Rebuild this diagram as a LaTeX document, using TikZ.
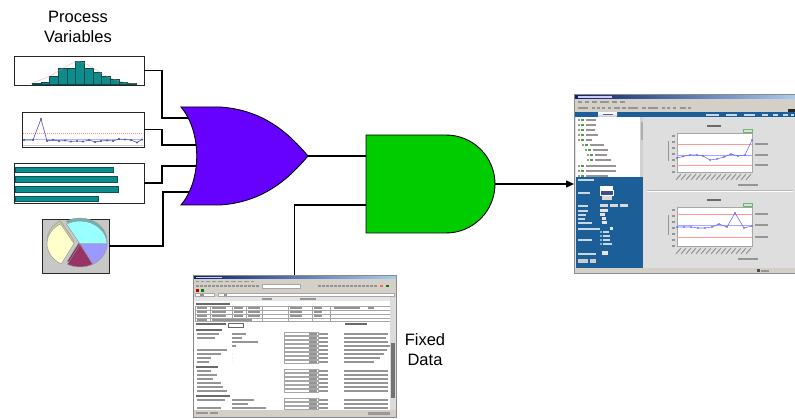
\documentclass[tikz,border=0pt]{standalone}
\usepackage{fontspec}
\setmainfont{Liberation Sans}
\usetikzlibrary{arrows.meta}

\definecolor{orfill}{HTML}{6600FF}
\definecolor{andfill}{HTML}{00CC00}
\definecolor{barteal}{HTML}{0E8C8C}
\definecolor{pieblue}{HTML}{9999FF}
\definecolor{piered}{HTML}{993366}
\definecolor{pieyel}{HTML}{FFFFCC}
\definecolor{piecyan}{HTML}{99FFFF}
\definecolor{winbg}{HTML}{DEDEDE}
\definecolor{menubg}{HTML}{D4D0C8}
\definecolor{navytitle}{HTML}{0A246A}
\definecolor{lighttitle}{HTML}{A6CAF0}
\definecolor{panelblue}{HTML}{1B5E98}
\definecolor{txtgray}{HTML}{959595}
\definecolor{txtdark}{HTML}{6A6A6A}
\definecolor{txtlight}{HTML}{C8D8EA}

% blurred screen text: a thin bar of given width
\newcommand{\tb}[3]{\fill[txtgray] (#1,#2) rectangle ++(#3,1.6);}
\newcommand{\tbd}[3]{\fill[txtdark] (#1,#2) rectangle ++(#3,1.8);}
\newcommand{\lb}[3]{\fill[txtlight] (#1,#2) rectangle ++(#3,1.6);}

% one control chart panel: top, ucl, cl, lcl, data
\newcommand{\ctlchart}[5]{%
  \tbd{707}{#1-8}{14}
  \draw[green!55!black!60, line width=0.4pt] (743,#1-3.5) rectangle (752,#1-1);
  \fill[white] (677,#1) rectangle (752,#1+39);
  \draw[black!35, line width=0.3pt] (677,#1) rectangle (752,#1+39);
  \foreach \k in {2,8,14,20,26,32,38} \tb{672}{#1+\k}{3}
  \fill[txtgray] (667.5,#1+8) rectangle (669.3,#1+28);
  \draw[red!40, line width=0.45pt] (677,#2) -- (752,#2);
  \draw[blue!35, line width=0.45pt] (677,#3) -- (752,#3);
  \draw[red!40, line width=0.45pt] (677,#4) -- (752,#4);
  \draw[blue!60, line width=0.55pt] plot[mark=*, mark size=0.55pt] coordinates {#5};
  \foreach \k in {#2,#3,#4} \tb{755}{\k-0.7}{13}
  \foreach \k in {0,...,14} \draw[black!40, line width=0.6pt] (676+5*\k,#1+47) -- (681+5*\k,#1+41);
  \tb{738}{#1+51}{20}
}

\begin{document}
\begin{tikzpicture}[x=1pt,y=-1pt,
  wire/.style={line width=1.1pt},
  gate/.style={draw=black, line width=0.9pt},
  iconbox/.style={draw=black!85, line width=0.9pt, fill=white, inner sep=0pt, outer sep=0pt, anchor=north west},
  shotbox/.style={draw=black!45, line width=0.6pt, inner sep=0pt, outer sep=0pt, anchor=north west},
  heading/.style={font=\fontsize{16.5}{20}\selectfont, align=center, inner sep=0pt},
  cell/.style={draw=black!35, line width=0.3pt},
  slice/.style={draw=black!40, line width=0.5pt},
]
\useasboundingbox (0,0) rectangle (795,419);

% ---------- titles ----------
\node[heading] (pvtitle) at (78,27) {Process\\Variables};
\node[heading] (fdtitle) at (425,350) {Fixed\\Data};

% ---------- histogram ----------
\node[iconbox, minimum width=130pt, minimum height=29pt] (hist) at (14,56) {};
\foreach \x/\t in {32/83.5, 40.7/82.3, 49.3/76, 58/68.3, 66.7/68.3, 75.3/61, 84/68.3, 92.7/71.7, 101.3/76, 110/79.3, 118.7/81.7, 127.3/83.3}
  \filldraw[fill=barteal, draw=barteal!55!black, line width=0.35pt] (\x,84.5) rectangle (\x+8.7,\t);
\draw[red!50, line width=0.4pt, opacity=0.6] plot[smooth] coordinates {(30,84) (50,76) (65,67) (79,61.5) (93,68) (108,77) (125,82.5) (140,84)};

% ---------- control chart ----------
\node[iconbox, minimum width=122pt, minimum height=35pt] (ctrl) at (22,112) {};
\draw[red!45, line width=0.5pt, dash pattern=on 1pt off 1pt] (23,133) -- (143,133);
\draw[blue!30, line width=0.5pt] (23,139.5) -- (143,139.5);
\draw[black!22, line width=1.2pt] (23,145.8) -- (143,145.8);
\draw[blue!35!gray, line width=0.6pt] plot[mark=*, mark size=0.6pt] coordinates {(24,140) (33,140) (41,119) (47,141) (53,140) (59,141) (65,140.5) (71,141.5) (77,141) (83,141.5) (89,140) (95,142) (101,141) (107,140.5) (113,141) (119,139) (125,139.5) (131,140) (137,142.5) (142,139.5)};

% ---------- bar chart ----------
\node[iconbox, minimum width=130pt, minimum height=40pt] (bars) at (14,163) {};
\foreach \a/\b/\l in {167/172/113, 176.5/182/117, 186.5/192/118, 196/201/98}
  \filldraw[fill=barteal, draw=barteal!60!black, line width=0.3pt] (15.5,\a) rectangle (\l,\b);

% ---------- pie chart ----------
\node[iconbox, fill=black!22, minimum width=67pt, minimum height=54pt] (pie) at (42,219) {};
\begin{scope}[shift={(80,244)}, yscale=-0.85]
  % rim of the 3-D pie
  \begin{scope}[yshift=-3.5pt]
    \filldraw[slice, fill=piecyan!70!black] (0,0) -- (0:27) arc[start angle=0, end angle=120, radius=27] -- cycle;
    \filldraw[slice, fill=pieblue!70!black] (0,0) -- (-62:27) arc[start angle=-62, end angle=0, radius=27] -- cycle;
    \filldraw[slice, fill=piered!70!black] (0,0) -- (-118:27) arc[start angle=-118, end angle=-62, radius=27] -- cycle;
    \filldraw[slice, fill=pieyel!80!black] (176:6) -- ++(120:27) arc[start angle=120, end angle=242, radius=27] -- cycle;
  \end{scope}
  \filldraw[slice, fill=piecyan] (0,0) -- (0:27) arc[start angle=0, end angle=120, radius=27] -- cycle;
  \filldraw[slice, fill=pieblue] (0,0) -- (-62:27) arc[start angle=-62, end angle=0, radius=27] -- cycle;
  \filldraw[slice, fill=piered] (0,0) -- (-118:27) arc[start angle=-118, end angle=-62, radius=27] -- cycle;
  \filldraw[slice, fill=pieyel] (176:6) -- ++(120:27) arc[start angle=120, end angle=242, radius=27] -- cycle;
\end{scope}

% ---------- wires into the OR gate ----------
\coordinate (b1) at (162,118); \coordinate (o1) at (196,118);
\coordinate (b2) at (162,145); \coordinate (o2) at (201,145);
\coordinate (b3) at (162,166); \coordinate (o3) at (201,166);
\coordinate (b4) at (163,192); \coordinate (o4) at (196,192);
\draw[wire] (hist.east) -| (b1) -- (o1);
\draw[wire] (ctrl.east) -| (b2) -- (o2);
\draw[wire] (bars.east) -| (b3) -- (o3);
\draw[wire] (pie.east) -| (b4) -- (o4);

% ---------- OR gate ----------
\filldraw[gate, fill=orfill] (181,107) -- (220,107) .. controls (265,110) and (290,135) .. (308,156)
  .. controls (290,177) and (265,202) .. (220,205) -- (181,205)
  .. controls (202,180) and (202,132) .. (181,107) -- cycle;
\coordinate (orout) at (308,156);

% ---------- AND gate ----------
\filldraw[gate, fill=andfill] (366,135) -- (446,135) arc[start angle=-90, end angle=90, radius=49] -- (366,233) -- cycle;
\coordinate (andin1) at (366,156);
\coordinate (andin2) at (366,205);
\coordinate (andout) at (495,184);

% ---------- main window (output) ----------
\node[shotbox, fill=winbg, minimum width=221pt, minimum height=179pt] (view) at (574,94) {};
\shade[left color=navytitle, right color=lighttitle] (574.5,94.5) rectangle (794.5,99.5);
\fill[white!80!blue] (578,96.2) rectangle (612,97.8);
\fill[menubg] (574.5,99.5) rectangle (794.5,112);
\foreach \x/\w in {578/4, 585/4, 592/5, 600/9, 612/5, 620/5} \tb{\x}{101}{\w}
\foreach \x/\w in {578/10, 592/3, 597/3, 602/3, 608/3, 614/6, 622/4, 628/10, 642/4, 648/10, 662/3, 667/3, 673/3, 680/6, 688/3} \tb{\x}{107}{\w}
\fill[black!85] (788,109) rectangle (794.5,113.5);
\fill[panelblue] (574.5,112) rectangle (794.5,117);
\shade[top color=white, bottom color=blue!25] (598,112.8) rectangle (617,116.6);
\fill[black!60] (603,114) rectangle (613,115.4);
\foreach \x/\w in {706/13, 726/11, 744/11, 762/6, 773/5, 783/5, 791/3} \lb{\x}{114}{\w}
% tree pane
\fill[white] (576,117) rectangle (643,177);
\fill[black!18] (640,117) rectangle (643,177);
\fill[black!32] (640.5,122) rectangle (642.5,140);
\foreach \y/\i/\w in {119/0/10, 124/0/10, 129/0/9, 134/0/12, 139/0/6, 144/4/14, 149/7/15, 154/9/12, 159/9/16, 165/0/30, 170/0/30, 175/0/22}{
  \fill[black!40] (578+\i,\y) rectangle ++(2,2);
  \fill[green!45!black!70] (581+\i,\y-0.3) rectangle ++(3,2.4);
  \tb{586+\i}{\y}{\w}
}
% option panel
\fill[panelblue] (576,177) rectangle (643,268);
\lb{578}{179.5}{16}
\fill[white] (600,186.5) rectangle (613,190);
\filldraw[fill=navytitle!80, draw=white, line width=0.3pt] (600,190.5) rectangle (613,195);
\fill[white!85!black] (602,196) rectangle (612,200);
\lb{578}{192.5}{12}
\lb{578}{205}{10}
\foreach \x in {600,610,620} \fill[white!85!black] (\x,204) rectangle ++(8,3.5);
\foreach \y/\w/\x/\bw in {210/10/600/8, 214/8/600/5, 218/7/602/4, 222/14/602/5, 228/22/610/3}{
  \lb{578}{\y}{\w}
  \fill[white!90!black] (\x,\y-1) rectangle ++(\bw,3.5);
}
\lb{578}{239}{14}
\foreach \y/\w in {232/6, 236/7, 240/7, 244/9} {
  \fill[white] (601,\y) circle (0.9);
  \lb{603}{\y-0.7}{\w}
}
\lb{578}{253}{18}
\fill[white!90!black] (602,251.5) rectangle (608,255);
\fill[white!80!black] (578,259) rectangle (588,263);
\fill[white!80!black] (590,259) rectangle (596,263);
% chart pane
\draw[black!28, line width=0.5pt] (647,190) -- (793,190);
\draw[white, line width=0.5pt] (647,191) -- (793,191);
\ctlchart{133}{144}{155}{165}{(677,158) (683,156.5) (690,155) (697,155) (703,156) (710,160) (717,159) (724,157) (731,154) (738,156) (745,155) (752,140)}
\ctlchart{207}{214}{225}{237}{(677,227) (684,227) (691,227) (698,228) (705,228) (712,227) (719,224) (727,227) (735,213) (744,228) (752,226)}
% status bar
\fill[menubg] (574.5,268) rectangle (794.5,273.5);
\fill[black!70] (757,269.5) rectangle (760,272);
\tb{761}{270}{8}
\draw[black!45, line width=0.6pt] (view.north west) rectangle (view.south east);

% ---------- data sheet (fixed data) ----------
\node[shotbox, fill=white, minimum width=203pt, minimum height=142pt] (fixed) at (193,275) {};
\shade[left color=navytitle, right color=lighttitle] (193.5,275.5) rectangle (395.5,279.5);
\fill[white!80!blue] (196,276.8) rectangle (222,278.2);
\fill[menubg] (193.5,279.5) rectangle (395.5,297);
\foreach \x/\w in {196/3, 201/3, 206/4, 212/4, 218/5, 225/4, 231/5, 238/4, 244/5, 251/3} \tb{\x}{280.8}{\w}
\foreach \x in {196,200,...,256} \fill[black!42] (\x,284.8) rectangle ++(2.6,2.6);
\filldraw[fill=white, cell] (262,284.6) rectangle (300,288.2);
\foreach \x in {318,322,...,374} \fill[black!42] (\x,284.8) rectangle ++(2.6,2.6);
\fill[red!60] (380,284.8) rectangle ++(2.6,2.6);
\fill[green!50!black] (386,284.8) rectangle ++(2.6,2.6);
\fill[red!70!black] (196,289.5) rectangle ++(3,2.5);
\fill[green!50!black] (200.5,289.5) rectangle ++(3,2.5);
\filldraw[fill=white, cell] (195,293.2) rectangle (214,296.5);
\filldraw[fill=white, cell] (218,293.2) rectangle (394,296.5);
\tb{200}{294.2}{4}
\tb{224}{294.2}{3}
% sheet body
\fill[black!10] (193.5,297) rectangle (390,301);
\tb{262}{298.2}{10}
\tb{300}{298.2}{16}
\tbd{196}{303}{34}
\draw[cell] (195,306) rectangle (390,321);
\foreach \y in {310,314,318} \draw[cell] (195,\y) -- (390,\y);
\foreach \x in {210,232,246,262,288,312,330} \draw[cell] (\x,306) -- (\x,321);
\foreach \y in {307.5,311.5,315.5} {
  \tb{197}{\y}{10} \tb{212}{\y}{14} \tb{234}{\y}{9} \tb{248}{\y}{12} \tb{290}{\y}{12} \tb{314}{\y}{8}
}
\tb{197}{319.5}{10}
\tb{212}{319.5}{40}
\tb{334}{307.5}{26}
\tb{368}{307.5}{6}
\tbd{196}{323}{30}
\draw[black!60, line width=0.5pt] (228,323.3) rectangle (243,327.5);
\tbd{345}{323}{22}
\tbd{196}{329}{26}
\foreach \y/\a/\m/\c in {333/22/14/44, 337/18/10/42, 341/0/26/44, 345/0/4/46, 349/30/0/43, 353/24/0/40, 357/14/0/36, 361/12/0/30} {
  \tb{197}{\y}{\a}
  \tb{232}{\y}{\m}
  \draw[cell] (284,\y-1) rectangle (318,\y+2.5);
  \tb{309}{\y}{8}
  \tb{319}{\y}{9}
  \tb{344}{\y}{\c}
}
\tbd{196}{366}{22}
\foreach \y/\a/\c in {370/14/44, 374/20/44, 378/16/44, 382/24/44, 386/26/44, 390/30/44} {
  \tb{197}{\y}{\a}
  \draw[cell] (284,\y-1) rectangle (318,\y+2.5);
  \tb{309}{\y}{8}
  \tb{319}{\y}{9}
  \tb{344}{\y}{\c}
}
\tbd{196}{395}{34}
\foreach \y/\a/\m in {399/28/22, 403/0/16, 407/24/34} {
  \tb{197}{\y}{\a}
  \tb{232}{\y}{\m}
  \draw[cell] (284,\y-1) rectangle (318,\y+2.5);
  \tb{309}{\y}{8}
  \tb{319}{\y}{9}
  \tb{344}{\y}{44}
}
% scroll bar and status bar
\fill[black!14] (390,297) rectangle (395.5,410);
\fill[black!55] (391,343) rectangle (394.5,398);
\fill[menubg] (193.5,410) rectangle (395.5,416.5);
\tb{196}{412}{12}
\tb{210}{412}{8}
\fill[black!40] (368,411.5) rectangle (390,414.5);
\draw[black!45, line width=0.6pt] (fixed.north west) rectangle (fixed.south east);

% ---------- wires between the gates and the windows ----------
\draw[wire] (orout) -- (andin1);
\draw[wire] (fixed.north) |- (andin2);
\draw[wire, -{Triangle[length=8pt, width=7pt]}] (andout) -- (andout -| view.west);
\end{tikzpicture}
\end{document}
